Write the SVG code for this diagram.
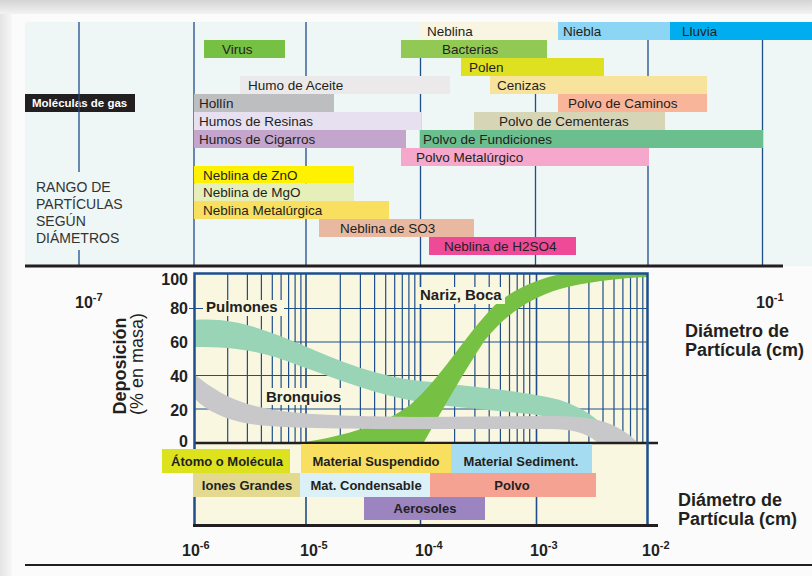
<svg xmlns="http://www.w3.org/2000/svg" width="812" height="576" viewBox="0 0 812 576">
<defs>
<linearGradient id="topShade" x1="0" y1="0" x2="0" y2="1"><stop offset="0" stop-color="#d4d4d4"/><stop offset="1" stop-color="#f7f7f7"/></linearGradient>
<linearGradient id="leftShade" x1="0" y1="0" x2="1" y2="0"><stop offset="0" stop-color="#e4e4e4"/><stop offset="1" stop-color="#f7f7f7"/></linearGradient>
<clipPath id="plot"><rect x="195" y="274" width="452" height="168"/></clipPath>
</defs>
<style>
text{font-family:"Liberation Sans",Arial,sans-serif;fill:#231f20}
.t{font-size:13.5px}
.w{font-size:11.5px;font-weight:bold;fill:#ffffff}
.lb{font-size:13px;font-weight:bold;text-anchor:middle}
.cl{font-size:15px;font-weight:bold}
.yl{font-size:16px;font-weight:bold;text-anchor:end}
.ax{font-size:16px;font-weight:bold}
.ax tspan{font-size:11px}
.big{font-size:18px;font-weight:bold}
.rg{font-size:14px;fill:#333333}
.vline{stroke:#1f4e8c;stroke-width:1.3;fill:none}
.grid{stroke:#1f4e8c;stroke-width:1.2;fill:none}
.major{stroke:#1f4e8c;stroke-width:1.6;fill:none}
.frame{stroke:#1d4f8f;stroke-width:2.5;fill:none}
.dark{stroke:#231f20;fill:none}
</style>

<!-- page background -->
<rect width="812" height="576" fill="#f7f7f7"/>
<rect width="812" height="16" fill="url(#topShade)"/>
<rect x="0" y="14" width="12" height="562" fill="url(#leftShade)"/>
<rect x="12" y="14" width="800" height="562" fill="#fbfbfb"/>
<rect x="25" y="22" width="787" height="244" fill="#eef7f5"/>

<!-- Moléculas de gas (under the decade line) -->
<g id="moleculas">
<rect x="25" y="94" width="110" height="18" fill="#231f20"/>
<text class="w" x="32" y="107">Moléculas de gas</text>
</g>

<!-- decade lines of top panel -->
<g id="top-grid">
<path class="vline" d="M79 22V265M194 22V265M306 22V265M420.5 22V265M535.5 22V265M648 22V265M762.5 22V265"/>
</g>

<g id="rango">
<rect x="30" y="172" width="105" height="78" fill="#eef7f5"/>
<text class="rg" x="36" y="192">RANGO DE</text>
<text class="rg" x="36" y="209">PARTÍCULAS</text>
<text class="rg" x="36" y="226">SEGÚN</text>
<text class="rg" x="36" y="243">DIÁMETROS</text>
</g>

<g id="neblina"><rect x="419" y="22" width="139" height="18" fill="#f8f6e2"/><text class="t" x="427" y="35.5">Neblina</text></g>
<g id="niebla"><rect x="558" y="22" width="112" height="18" fill="#8dd5f5"/><text class="t" x="563" y="35.5">Niebla</text></g>
<g id="lluvia"><rect x="670" y="22" width="142" height="18" fill="#00aeef"/><text class="t" x="682" y="35.5">Lluvia</text></g>
<g id="virus"><rect x="204" y="40" width="81" height="18" fill="#76c043"/><text class="t" x="222" y="53.5">Virus</text></g>
<g id="bacterias"><rect x="401" y="40" width="146" height="18" fill="#92c955"/><text class="t" x="442" y="53.5">Bacterias</text></g>
<g id="polen"><rect x="461" y="58" width="143" height="18" fill="#dfe01f"/><text class="t" x="469" y="71.5">Polen</text></g>
<g id="humo-aceite"><rect x="240" y="76" width="210" height="18" fill="#ebe9ea"/><text class="t" x="248" y="89.5">Humo de Aceite</text></g>
<g id="cenizas"><rect x="490" y="76" width="217" height="18" fill="#f8e39d"/><text class="t" x="497" y="89.5">Cenizas</text></g>
<g id="hollin"><rect x="194" y="94" width="140" height="18" fill="#bcbec0"/><text class="t" x="199" y="107.5">Hollín</text></g>
<g id="polvo-caminos"><rect x="558" y="94" width="149" height="18" fill="#f8b59a"/><text class="t" x="568" y="107.5">Polvo de Caminos</text></g>
<g id="humos-resinas"><rect x="194" y="112" width="227" height="18" fill="#e6e0f0"/><text class="t" x="199" y="125.5">Humos de Resinas</text></g>
<g id="polvo-cementeras"><rect x="474" y="112" width="191" height="18" fill="#d6d6b7"/><text class="t" x="499" y="125.5">Polvo de Cementeras</text></g>
<g id="humos-cigarros"><rect x="194" y="130" width="212" height="18" fill="#c4a6cc"/><text class="t" x="199" y="143.5">Humos de Cigarros</text></g>
<g id="polvo-fundiciones"><rect x="420" y="130" width="343" height="18" fill="#6bbe8d"/><text class="t" x="423" y="143.5">Polvo de Fundiciones</text></g>
<g id="polvo-metalurgico"><rect x="401" y="148" width="248" height="18" fill="#f5a8cb"/><text class="t" x="416" y="161.5">Polvo Metalúrgico</text></g>
<g id="neblina-zno"><rect x="194" y="166" width="160" height="17.5" fill="#fff200"/><text class="t" x="203" y="179.5">Neblina de ZnO</text></g>
<g id="neblina-mgo"><rect x="194" y="183.5" width="160" height="17.5" fill="#e6efba"/><text class="t" x="203" y="197">Neblina de MgO</text></g>
<g id="neblina-metalurgica"><rect x="194" y="201" width="195" height="18" fill="#f9df60"/><text class="t" x="203" y="214.5">Neblina Metalúrgica</text></g>
<g id="neblina-so3"><rect x="319" y="219" width="155" height="18" fill="#e8b9a0"/><text class="t" x="340" y="232.5">Neblina de SO3</text></g>
<g id="neblina-h2so4"><rect x="429" y="237" width="147" height="18" fill="#ee4a98"/><text class="t" x="444" y="250.5">Neblina de H2SO4</text></g>

<!-- separator -->
<line class="dark" x1="25" y1="266" x2="783" y2="266" stroke-width="3"/>

<!-- chart -->
<g id="chart">
<rect x="194" y="273" width="454" height="252" fill="#faf7e1"/>
<path class="grid" d="M227.7 274V442M247.4 274V442M261.4 274V442M272.3 274V442M281.1 274V442M288.6 274V442M295.1 274V442M300.9 274V442M340.3 274V442M360.4 274V442M374.6 274V442M385.7 274V442M394.7 274V442M402.3 274V442M408.9 274V442M414.8 274V442M454.6 274V442M474.9 274V442M489.2 274V442M500.4 274V442M509.5 274V442M517.2 274V442M523.8 274V442M529.7 274V442M569 274V442M588.9 274V442M603 274V442M614 274V442M622.9 274V442M630.5 274V442M637 274V442M642.8 274V442"/>
<path class="grid" stroke-width="1.5" d="M189 308.5H647M195 342H647M195 375.5H647M195 409H647"/>
<path class="major" d="M306 274V525M420.5 274V525M536.5 274V525"/>
<g clip-path="url(#plot)">
<path id="pulmones-band" fill="#98d4b5" d="M194,320 C235,317 265,330 300,344 C340,362 380,377 420,381 C470,386 530,392 560,400 C590,410 606,425 615,442 L600,442 C585,425 560,418 530,414 C490,410 450,407 420,402 C380,396 340,380 300,366 C260,350 235,347 194,347 Z"/>
<path id="nariz-band" fill="#76c043" d="M305,442 C345,436 385,424 410,405 C440,380 465,335 495,305 C515,288 540,278 562,274 L647,274 L647,277 C620,278 585,282 560,289 C530,298 505,315 485,340 C465,370 445,405 424,442 Z"/>
<path id="bronquios-band" fill="#c8c8ca" d="M194,374 C210,387 230,401 260,407 C290,414 330,416 420,417 L550,416 C590,416 615,420 637,442 L597,442 C585,432 570,429 550,429 L420,429 C330,429 280,428 250,424 C225,420 205,410 194,398 Z"/>
</g>
<rect x="203" y="300" width="81" height="16" fill="#faf7e1"/>
<text class="cl" x="206" y="312">Pulmones</text>
<rect x="262" y="388" width="84" height="17" fill="#faf7e1"/>
<text class="cl" x="266" y="402">Bronquios</text>
<rect x="417" y="287" width="88" height="17" fill="#faf7e1"/>
<text class="cl" x="420" y="300">Nariz, Boca</text>
<line class="dark" x1="194" y1="443" x2="658" y2="443" stroke-width="2.5"/>
<path class="frame" d="M194.5 526V273.5H647.5V526"/>
<line class="dark" x1="193" y1="525.5" x2="658" y2="525.5" stroke-width="3"/>
</g>

<g id="y-axis">
<text class="yl" x="188" y="285">100</text>
<text class="yl" x="188" y="314">80</text>
<text class="yl" x="188" y="348">60</text>
<text class="yl" x="188" y="382">40</text>
<text class="yl" x="188" y="416">20</text>
<text class="yl" x="188" y="447">0</text>
<text class="big" text-anchor="middle" transform="translate(126,366) rotate(-90)">Deposición</text>
<text font-size="18px" text-anchor="middle" transform="translate(143,364) rotate(-90)">(% en masa)</text>
</g>

<g id="atomo"><rect x="162" y="449" width="128" height="24" fill="#dde21e"/><text class="lb" x="227" y="466">Átomo o Molécula</text></g>
<g id="material-suspendido"><rect x="301" y="444" width="150" height="29" fill="#f9df60"/><text class="lb" x="376" y="466">Material Suspendido</text></g>
<g id="material-sediment"><rect x="451" y="444" width="141" height="29" fill="#a5dcf2"/><text class="lb" x="521" y="466">Material Sediment.</text></g>
<g id="iones"><rect x="193" y="473" width="107" height="24" fill="#e3d98f"/><text class="lb" x="247" y="490">Iones Grandes</text></g>
<g id="mat-condensable"><rect x="300" y="473" width="130" height="24" fill="#dcf0f8"/><text class="lb" x="366" y="490">Mat. Condensable</text></g>
<g id="polvo"><rect x="430" y="473" width="166" height="24" fill="#f5a293"/><text class="lb" x="512" y="490">Polvo</text></g>
<g id="aerosoles"><rect x="364" y="497" width="121" height="23" fill="#9b84c0"/><text class="lb" x="425" y="513">Aerosoles</text></g>

<g id="x-labels">
<text class="ax" x="75" y="308">10<tspan dy="-7">-7</tspan></text>
<text class="ax" x="756" y="308">10<tspan dy="-7">-1</tspan></text>
<text class="ax" x="182" y="556">10<tspan dy="-7">-6</tspan></text>
<text class="ax" x="300" y="556">10<tspan dy="-7">-5</tspan></text>
<text class="ax" x="415" y="556">10<tspan dy="-7">-4</tspan></text>
<text class="ax" x="530" y="556">10<tspan dy="-7">-3</tspan></text>
<text class="ax" x="642" y="556">10<tspan dy="-7">-2</tspan></text>
<text class="big" x="685" y="337">Diámetro de</text>
<text class="big" x="685" y="356">Partícula (cm)</text>
<text class="big" x="678" y="506">Diámetro de</text>
<text class="big" x="678" y="525">Partícula (cm)</text>
</g>

<line class="dark" x1="25" y1="565" x2="812" y2="565" stroke-width="2" stroke="#333333"/>
</svg>
